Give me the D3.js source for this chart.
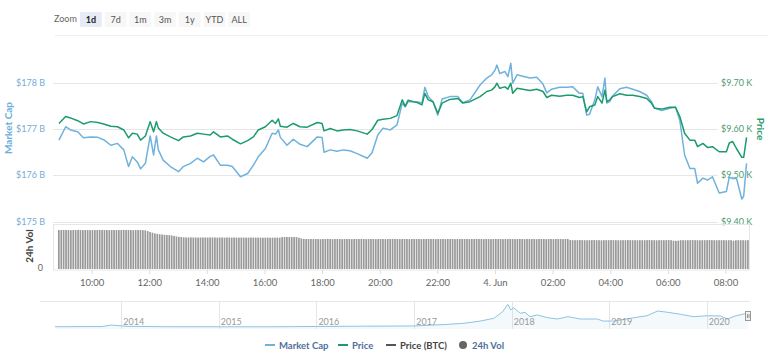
<!DOCTYPE html>
<html>
<head>
<meta charset="utf-8">
<script src="https://cdn.jsdelivr.net/npm/d3@7"></script>
<style>
  html, body { margin: 0; padding: 0; background: #fff; }
  svg { display: block; font-family: Lato, "Open Sans", sans-serif; }
</style>
</head>
<body>
<div id="chart"></div>
<script>
// hours after 3 Jun 00:00 (values above 24 are on 4 Jun)
var hours = [
  8.86, 9.10, 9.27, 9.51, 9.72, 9.97, 10.21, 10.42, 10.66, 10.90,
  11.11, 11.28, 11.42, 11.59, 11.70, 11.87, 12.04, 12.15, 12.25, 12.32,
  12.49, 12.74, 13.01, 13.19, 13.43, 13.67, 13.88, 14.12, 14.23, 14.47,
  14.71, 14.89, 15.16, 15.41, 15.61, 15.79, 16.03, 16.27, 16.38, 16.48,
  16.55, 16.79, 17.00, 17.24, 17.48, 17.83, 18.00, 18.07, 18.28, 18.52,
  18.73, 18.97, 19.22, 19.56, 19.74, 19.94, 20.12, 20.36, 20.60, 20.78,
  20.88, 20.98, 21.30, 21.47, 21.57, 21.68, 21.85, 22.02, 22.16, 22.44,
  22.72, 22.89, 23.13, 23.48, 23.72, 23.89, 24.00, 24.07, 24.17, 24.35,
  24.45, 24.55, 24.62, 24.76, 24.97, 25.21, 25.45, 25.66, 25.80, 25.97,
  26.25, 26.49, 26.70, 26.94, 27.05, 27.19, 27.29, 27.46, 27.57, 27.71,
  27.81, 27.88, 27.98, 28.09, 28.33, 28.57, 28.78, 29.02, 29.27, 29.44,
  29.54, 29.79, 30.06, 30.27, 30.41, 30.58, 30.76, 30.93, 31.03, 31.21,
  31.38, 31.55, 31.79, 32.04, 32.14, 32.25, 32.38, 32.56, 32.63, 32.73
];
var priceUsd = [
  9612, 9627, 9624, 9618, 9611, 9616, 9614, 9611, 9606, 9605,
  9598, 9581, 9591, 9589, 9576, 9585, 9616, 9594, 9616, 9602,
  9591, 9583, 9575, 9583, 9585, 9591, 9589, 9587, 9594, 9583,
  9585, 9578, 9568, 9575, 9583, 9598, 9605, 9619, 9612, 9622,
  9606, 9604, 9612, 9605, 9604, 9614, 9612, 9596, 9601, 9596,
  9598, 9599, 9596, 9589, 9599, 9619, 9621, 9623, 9629, 9663,
  9649, 9662, 9657, 9652, 9677, 9663, 9659, 9634, 9656, 9664,
  9666, 9656, 9659, 9670, 9681, 9684, 9691, 9699, 9688, 9691,
  9686, 9699, 9677, 9688, 9686, 9683, 9686, 9681, 9668, 9673,
  9671, 9673, 9673, 9668, 9670, 9637, 9648, 9652, 9670, 9656,
  9684, 9659, 9663, 9670, 9676, 9673, 9673, 9670, 9666, 9656,
  9645, 9643, 9647, 9647, 9627, 9591, 9576, 9576, 9562, 9569,
  9560, 9562, 9551, 9551, 9570, 9573, 9558, 9539, 9539, 9582
];
var marketCapB = [
  176.76, 177.05, 176.98, 176.94, 176.81, 176.83, 176.82, 176.77, 176.65, 176.69,
  176.55, 176.19, 176.40, 176.29, 176.14, 176.26, 176.85, 176.44, 176.85, 176.55,
  176.33, 176.19, 176.08, 176.19, 176.26, 176.37, 176.29, 176.41, 176.44, 176.22,
  176.22, 176.19, 175.97, 176.04, 176.22, 176.40, 176.58, 176.91, 176.89, 176.98,
  176.82, 176.65, 176.78, 176.67, 176.62, 176.83, 176.82, 176.50, 176.55, 176.52,
  176.55, 176.53, 176.47, 176.37, 176.49, 176.87, 177.02, 176.98, 177.09, 177.56,
  177.48, 177.59, 177.59, 177.56, 177.90, 177.70, 177.59, 177.30, 177.65, 177.70,
  177.70, 177.57, 177.63, 177.95, 178.10, 178.17, 178.27, 178.38, 178.20, 178.24,
  178.13, 178.42, 177.99, 178.17, 178.14, 178.10, 178.12, 177.97, 177.78, 177.86,
  177.90, 177.90, 177.91, 177.77, 177.77, 177.30, 177.32, 177.63, 177.91, 177.70,
  178.10, 177.56, 177.59, 177.71, 177.87, 177.90, 177.86, 177.81, 177.73, 177.59,
  177.46, 177.40, 177.45, 177.47, 177.19, 176.44, 176.15, 176.15, 175.83, 175.94,
  175.90, 175.97, 175.62, 175.65, 175.96, 175.93, 175.94, 175.49, 175.55, 176.26
];

// 24h volume (billions USD), one bar every 5 minutes from 08:50, one hour per row
var volStart = "2020-06-03T08:50:00";
var volStepMin = 5;
var volumeB = [
  30.4,30.4,30.5,30.4,30.4,30.3,30.4,30.4,30.5,30.4,30.4,30.4,
  30.4,30.3,30.4,30.4,30.4,30.5,30.4,30.4,30.4,30.3,30.4,30.4,
  30.4,30.4,30.4,30.5,30.4,30.4,30.4,30.3,30.4,30.4,30.4,30.3,
  30.2,29.6,28.9,28.3,27.8,27.4,27.1,26.9,26.7,26.5,26.4,26.2,
  25.8,25.4,25.1,24.9,24.7,24.6,24.6,24.7,24.6,24.6,24.5,24.6,
  24.6,24.6,24.5,24.6,24.6,24.6,24.5,24.6,24.6,24.5,24.6,24.6,
  24.5,24.6,24.5,24.5,24.6,24.5,24.5,24.5,24.6,24.5,24.5,24.5,
  24.5,24.4,24.5,24.5,24.4,24.5,24.5,24.5,24.4,24.9,25.0,25.0,
  25.0,24.9,25.0,24.9,24.4,23.9,23.5,23.4,23.4,23.4,23.3,23.4,
  23.4,23.3,23.4,23.4,23.5,23.4,23.3,23.4,23.4,23.4,23.3,23.4,
  23.4,23.4,23.3,23.4,23.4,23.4,23.5,23.4,23.3,23.4,23.4,23.4,
  23.3,23.4,23.4,23.4,23.3,23.4,23.4,23.5,23.4,23.4,23.3,23.4,
  23.4,23.4,23.3,23.4,23.4,23.4,23.4,23.3,23.4,23.4,23.5,23.4,
  23.4,23.3,23.4,23.4,23.4,23.3,23.4,23.4,23.4,23.3,23.4,23.4,
  23.4,23.4,23.4,23.3,23.4,23.4,23.5,23.4,23.4,23.3,23.4,23.4,
  23.3,23.4,23.4,23.4,23.4,23.3,23.4,23.4,23.4,23.4,23.3,23.4,
  23.4,23.4,23.3,23.4,23.4,23.4,23.4,23.3,23.4,23.4,23.4,23.3,
  23.4,23.4,23.3,23.4,23.4,23.4,23.3,23.4,23.4,22.6,22.5,22.5,
  22.5,22.6,22.5,22.5,22.4,22.5,22.5,22.6,22.5,22.5,22.4,22.5,
  22.5,22.5,22.6,22.5,22.5,22.4,22.5,22.5,22.5,22.6,22.5,22.5,
  22.5,22.4,22.5,22.5,22.5,22.5,22.6,22.5,22.5,22.4,22.5,22.5,
  22.5,22.5,22.6,22.5,22.1,22.0,22.1,22.5,22.5,22.4,22.5,22.5,
  22.6,22.5,22.5,22.4,22.5,22.5,22.5,22.6,22.5,22.5,22.4,22.5,
  22.5,22.5,22.4,22.5,22.5,22.1,22.4,22.5,22.5,22.5,22.4,22.5
];

// navigator: market cap history (billions USD)
var navDates = [
  "2013-04-28","2013-10-20","2013-11-24","2014-01-20","2014-05-30","2015-01-01",
  "2015-07-16","2016-01-01","2016-06-18","2017-01-01","2017-05-08","2017-07-06",
  "2017-09-06","2017-10-26","2017-11-28","2017-12-17","2017-12-28","2018-01-08",
  "2018-02-02","2018-02-20","2018-03-10","2018-04-07","2018-05-15","2018-06-20",
  "2018-07-30","2018-09-15","2018-11-17","2018-12-09","2019-01-18","2019-03-21",
  "2019-05-22","2019-07-01","2019-08-08","2019-09-24","2019-11-13","2020-01-04",
  "2020-02-21","2020-03-18","2020-04-16","2020-06-03"
];
var navMarketCapB = [
  4, 6, 27, 10, 4, 3,
  3, 7, 11, 14, 37, 51,
  82, 120, 210, 312, 234, 265,
  188, 202, 142, 165, 128, 110,
  142, 110, 110, 82, 82, 120,
  155, 220, 202, 175, 142, 155,
  151, 110, 151, 192
];

var zoomLabels = ["1d", "7d", "1m", "3m", "1y", "YTD", "ALL"];
var legendItems = [
  {name: "Market Cap", type: "line", color: "#6fb2dc"},
  {name: "Price", type: "line", color: "#1c9b6c"},
  {name: "Price (BTC)", type: "line", color: "#555"},
  {name: "24h Vol", type: "dot", color: "#666"}
];

var width = 768, height = 353;
var blue = "#6fb2dc", green = "#1c9b6c";

var svg = d3.select("#chart").append("svg")
    .attr("width", width).attr("height", height);

var hourToDate = function(h){
    return new Date(2020, 5, 3, 0, Math.round(h * 60));
};

// scales
var x = d3.scaleTime()
    .domain([new Date(2020, 5, 3, 8, 50), new Date(2020, 5, 4, 8, 47)])
    .range([58, 748]);
var yMc = d3.scaleLinear().domain([175, 178]).range([221.7, 82.7]);
var yPrice = d3.scaleLinear().domain([9400, 9700]).range([221.7, 82.7]);
var yVol = d3.scaleLinear().domain([0, 32]).range([269, 228]);

// zoom buttons
var zoomG = svg.append("g").attr("class", "zoomBar");
zoomG.append("text").attr("x", 54).attr("y", 22)
    .attr("font-size", 9).attr("fill", "#666").text("Zoom");
var btnX = d3.scaleBand().domain(zoomLabels).range([80, 250]).paddingInner(0.12);
zoomG.selectAll("rect").data(zoomLabels).enter().append("rect")
    .attr("x", function(d){ return btnX(d); })
    .attr("y", 12).attr("width", btnX.bandwidth()).attr("height", 15)
    .attr("rx", 1)
    .attr("fill", function(d){ return d === "1d" ? "#e6ebf5" : "#f7f7f7"; });
zoomG.selectAll("text.btn").data(zoomLabels).enter().append("text")
    .attr("class", "btn")
    .attr("x", function(d){ return btnX(d) + btnX.bandwidth()/2; })
    .attr("y", 22.5)
    .attr("text-anchor", "middle").attr("font-size", 9)
    .attr("font-weight", function(d){ return d === "1d" ? "bold" : "normal"; })
    .attr("fill", function(d){ return d === "1d" ? "#222" : "#555"; })
    .text(function(d){ return d; });
svg.append("line").attr("x1", 55).attr("x2", width).attr("y1", 35.5).attr("y2", 35.5)
    .attr("stroke", "#eee");

// gridlines + axis labels
var gridTicks = yMc.ticks(3);
svg.append("g").selectAll("line").data(gridTicks).enter().append("line")
    .attr("x1", 53).attr("x2", 718)
    .attr("y1", function(d){ return Math.round(yMc(d)) + 0.5; })
    .attr("y2", function(d){ return Math.round(yMc(d)) + 0.5; })
    .attr("stroke", "#e6e6e6");
svg.append("g").selectAll("text").data(gridTicks).enter().append("text")
    .attr("x", 45).attr("y", function(d){ return yMc(d) + 3; })
    .attr("text-anchor", "end").attr("font-size", 9).attr("fill", "#74acd6")
    .text(function(d){ return "$" + d + " B"; });
svg.append("g").selectAll("text").data(yPrice.ticks(3)).enter().append("text")
    .attr("x", 721).attr("y", function(d){ return yPrice(d) + 3; })
    .attr("font-size", 9).attr("fill", "#4e9a72")
    .text(function(d){ return "$" + d3.format(".2f")(d / 1000) + " K"; });

svg.append("text").attr("transform", "translate(12,128) rotate(-90)")
    .attr("text-anchor", "middle").attr("font-size", 10).attr("font-weight", "bold")
    .attr("fill", "#6aaedb").text("Market Cap");
svg.append("text").attr("transform", "translate(757,129) rotate(90)")
    .attr("text-anchor", "middle").attr("font-size", 10).attr("font-weight", "bold")
    .attr("fill", "#2b9a6c").text("Price");

// volume pane
svg.append("rect").attr("x", 53.5).attr("y", 224.5).attr("width", 696).attr("height", 45.5)
    .attr("fill", "none").attr("stroke", "#e6e6e6");
var volData = volumeB.map(function(v, i){
    return {t: d3.timeMinute.offset(new Date(volStart), i * volStepMin), v: v};
});
svg.append("g").selectAll("rect").data(volData).enter().append("rect")
    .attr("x", function(d){ return x(d.t); })
    .attr("y", function(d){ return yVol(d.v); })
    .attr("width", 1.7)
    .attr("height", function(d){ return yVol(0) - yVol(d.v); })
    .attr("fill", "#999");
svg.append("text").attr("x", 43).attr("y", yVol(0) + 2).attr("text-anchor", "end")
    .attr("font-size", 9).attr("fill", "#666").text("0");
svg.append("text").attr("transform", "translate(33,246) rotate(-90)")
    .attr("text-anchor", "middle").attr("font-size", 10).attr("font-weight", "bold")
    .attr("fill", "#444").text("24h Vol");

// lines
var pts = hours.map(function(h, i){
    return {t: hourToDate(h), mc: marketCapB[i], p: priceUsd[i]};
});
var mcLine = d3.line().x(function(d){ return x(d.t); }).y(function(d){ return yMc(d.mc); });
var priceLine = d3.line().x(function(d){ return x(d.t); }).y(function(d){ return yPrice(d.p); });
svg.append("path").datum(pts).attr("d", mcLine)
    .attr("fill", "none").attr("stroke", blue).attr("stroke-width", 1.5)
    .attr("stroke-linejoin", "round");
svg.append("path").datum(pts).attr("d", priceLine)
    .attr("fill", "none").attr("stroke", green).attr("stroke-width", 1.5)
    .attr("stroke-linejoin", "round");

// time axis
var fmt = function(d){
    return d.getHours() === 0 ? d3.timeFormat("%-d. %b")(d) : d3.timeFormat("%H:%M")(d);
};
svg.append("g").attr("transform", "translate(0,270)")
    .call(d3.axisBottom(x).ticks(d3.timeHour.every(2)).tickFormat(fmt).tickSize(4).tickSizeOuter(0))
    .call(function(g){
        g.select(".domain").remove();
        g.selectAll(".tick line").attr("stroke", "#ddd");
        g.selectAll(".tick text").attr("font-size", 9.5).attr("fill", "#666")
            .attr("font-family", "Lato, sans-serif").attr("dy", "0.9em");
    });

// navigator
var xNav = d3.scaleTime()
    .domain([new Date("2013-04-28"), new Date("2020-06-03")])
    .range([55, 748]);
var yNav = d3.scaleLinear().domain([0, 330]).range([327, 303]);
var navPts = navDates.map(function(d, i){ return {t: new Date(d), v: navMarketCapB[i]}; });
svg.append("line").attr("x1", 40).attr("x2", 750).attr("y1", 301.5).attr("y2", 301.5)
    .attr("stroke", "#e6e6e6");
var years = xNav.ticks(d3.timeYear.every(1)).filter(function(d){ return d > xNav.domain()[0]; });
svg.append("g").selectAll("line").data(years).enter().append("line")
    .attr("x1", function(d){ return Math.round(xNav(d)) + 0.5; })
    .attr("x2", function(d){ return Math.round(xNav(d)) + 0.5; })
    .attr("y1", 302).attr("y2", 329).attr("stroke", "#e6e6e6");
svg.append("path").datum(navPts)
    .attr("d", d3.area().x(function(d){ return xNav(d.t); }).y0(329).y1(function(d){ return yNav(d.v); }))
    .attr("fill", "#6fb2dc").attr("fill-opacity", 0.08);
svg.append("path").datum(navPts)
    .attr("d", d3.line().x(function(d){ return xNav(d.t); }).y(function(d){ return yNav(d.v); }))
    .attr("fill", "none").attr("stroke", "#8ec3e3").attr("stroke-width", 1);
svg.append("g").selectAll("text").data(years).enter().append("text")
    .attr("x", function(d){ return xNav(d) + 2; }).attr("y", 325)
    .attr("font-size", 9).attr("fill", "#999")
    .text(function(d){ return d.getFullYear(); });
// right handle
var hx = xNav(xNav.domain()[1]);
svg.append("rect").attr("x", hx - 2.5).attr("y", 311.5).attr("width", 5).attr("height", 9)
    .attr("fill", "#f2f2f2").attr("stroke", "#999");
svg.append("line").attr("x1", hx - 0.5).attr("x2", hx - 0.5).attr("y1", 314).attr("y2", 318)
    .attr("stroke", "#999");
svg.append("line").attr("x1", hx + 1).attr("x2", hx + 1).attr("y1", 314).attr("y2", 318)
    .attr("stroke", "#999");

// legend
var legX = [265, 338, 386, 458];
var leg = svg.append("g").selectAll("g").data(legendItems).enter().append("g")
    .attr("transform", function(d, i){ return "translate(" + legX[i] + ",345)"; });
leg.each(function(d){
    var g = d3.select(this);
    if(d.type === "line"){
        g.append("line").attr("x1", 0).attr("x2", 10).attr("y1", 0).attr("y2", 0)
            .attr("stroke", d.color).attr("stroke-width", 2);
    }else{
        g.append("circle").attr("cx", 5).attr("cy", 0).attr("r", 4).attr("fill", d.color);
    }
    g.append("text").attr("x", 14).attr("y", 3.5)
        .attr("font-size", 9.5).attr("font-weight", "bold")
        .attr("fill", d.name === "Price (BTC)" ? "#444" : "#4f6f9c")
        .text(d.name);
});
</script>
</body>
</html>
